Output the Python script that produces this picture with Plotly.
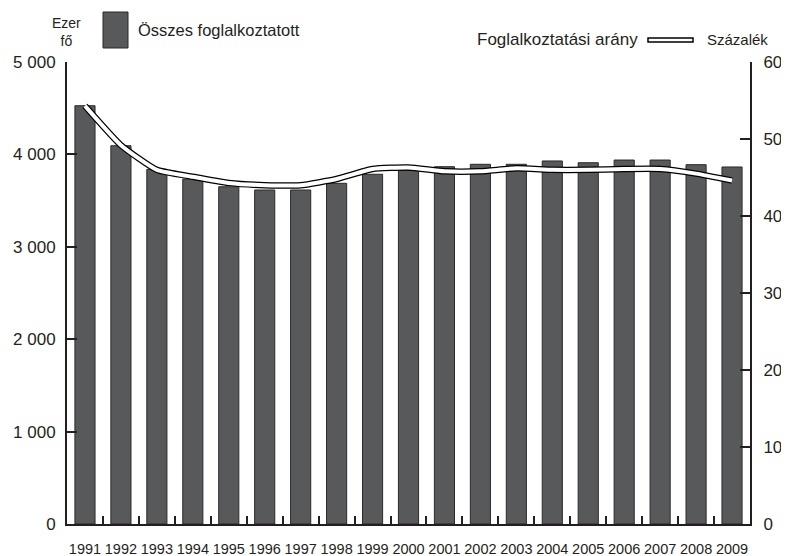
import plotly.graph_objects as go

years = [str(y) for y in range(1991, 2010)]
employed = [4527, 4094, 3838, 3733, 3650, 3615, 3615, 3687, 3785, 3831,
            3867, 3893, 3893, 3929, 3910, 3939, 3939, 3889, 3864]
rate = [54.3, 49.2, 46.0, 45.1, 44.3, 44.0, 44.0, 44.8, 46.1, 46.3,
        45.8, 45.8, 46.2, 46.0, 46.0, 46.1, 46.1, 45.5, 44.6]

left_ticks = [0, 1000, 2000, 3000, 4000, 5000]
left_labels = ["0", "1 000", "2 000", "3 000", "4 000", "5 000"]
right_ticks = [0, 10, 20, 30, 40, 50, 60]
right_labels = ["0", "10", "20", "30", "40", "50", "60"]

FONT = "Liberation Sans, Arial, sans-serif"
BAR = "#58595b"

fig = go.Figure()
fig.add_bar(x=years, y=employed, marker=dict(color=BAR, line=dict(color="#2a2a2a", width=1)),
            name="Összes foglalkoztatott")
fig.add_scatter(x=years, y=rate, yaxis="y2", mode="lines",
                line=dict(color="black", width=6.5, shape="spline", smoothing=0.5), hoverinfo="skip")
fig.add_scatter(x=years, y=rate, yaxis="y2", mode="lines",
                line=dict(color="white", width=4, shape="spline", smoothing=0.5),
                name="Foglalkoztatási arány")

# page body has an 8px margin, so the figure is 781x548 and starts at (8, 8)
fig.update_layout(
    width=781, height=548,
    margin=dict(l=59, r=39, t=54, b=32, autoexpand=False),
    paper_bgcolor="white", plot_bgcolor="white",
    showlegend=False, bargap=0.44,
    font=dict(family=FONT, color="#231f20", size=17),
    xaxis=dict(type="category", showline=True, linecolor="#231f20", linewidth=2,
               ticks="inside", tickson="boundaries", ticklen=8, tickwidth=2, tickcolor="#231f20",
               tickfont=dict(size=14.5), tickangle=0, ticklabelstandoff=11, automargin=False,
               showgrid=False, zeroline=False),
    yaxis=dict(range=[0, 5000], tickvals=left_ticks, ticktext=left_labels, automargin=False,
               showline=True, linecolor="#231f20", linewidth=2, ticks="inside", ticklen=10,
               tickwidth=2, tickcolor="#231f20", showgrid=False, zeroline=False,
               tickfont=dict(size=17), ticklabelstandoff=6),
    yaxis2=dict(range=[0, 60], tickvals=right_ticks, ticktext=right_labels, overlaying="y",
                side="right", showline=True, linecolor="#231f20", linewidth=2, ticks="inside",
                ticklen=10, tickwidth=2, tickcolor="#231f20", showgrid=False, zeroline=False,
                tickfont=dict(size=17), automargin=False, ticklabelstandoff=8),
)

def px(X):
    return (X - 67) / 683

def py(Y):
    return (524 - Y) / 462

# legend (left)
fig.add_shape(type="rect", xref="paper", yref="paper",
              x0=px(103), x1=px(128), y0=py(48), y1=py(12),
              fillcolor=BAR, line=dict(color="#2a2a2a", width=1))
fig.add_annotation(text="Összes foglalkoztatott", xref="paper", yref="paper",
                   x=px(136), y=py(30), xanchor="left", yanchor="middle",
                   showarrow=False, font=dict(size=16.5))
fig.add_annotation(text="Ezer<br>fő", xref="paper", yref="paper",
                   x=px(66), y=py(32), xanchor="center", yanchor="middle",
                   showarrow=False, font=dict(size=14), align="center")
# legend (right)
fig.add_annotation(text="Foglalkoztatási arány", xref="paper", yref="paper",
                   x=px(640), y=py(40), xanchor="right", yanchor="middle",
                   showarrow=False, font=dict(size=17))
fig.add_shape(type="rect", xref="paper", yref="paper",
              x0=px(648), x1=px(693), y0=py(42), y1=py(38),
              fillcolor="white", line=dict(color="black", width=1.5))
fig.add_annotation(text="Százalék", xref="paper", yref="paper",
                   x=px(705), y=py(40), xanchor="left", yanchor="middle",
                   showarrow=False, font=dict(size=15))

fig.write_html("out.html")
